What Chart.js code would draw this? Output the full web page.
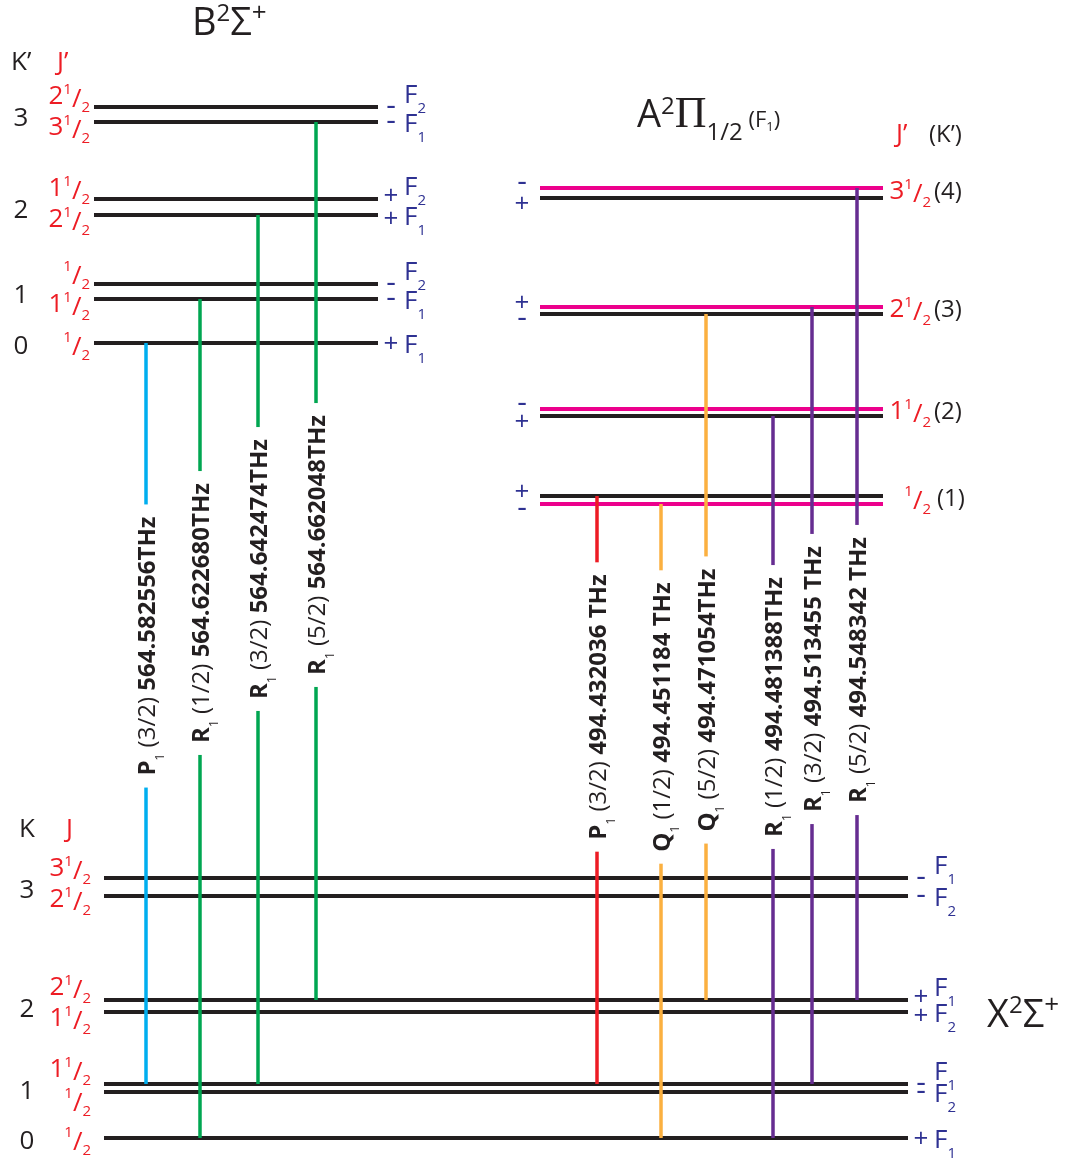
<!DOCTYPE html>
<html>
<head>
<meta charset="utf-8">
<title>Energy levels</title>
<script src="https://cdn.jsdelivr.net/npm/chart.js@4.4.1/dist/chart.umd.min.js"></script>
<style>
  html, body { margin: 0; padding: 0; background: #fff; }
  #diagram { display: block; }
</style>
</head>
<body>
<canvas id="diagram" width="1073" height="1158"></canvas>
<script>
// energies are on the diagram's own vertical scale (0 at the top)

// B2Σ+ levels (upper state, left)
const bK = [3, 3, 2, 2, 1, 1, 0];
const bJ = [2.5, 3.5, 1.5, 2.5, 0.5, 1.5, 0.5];
const bF = [2, 1, 2, 1, 2, 1, 1];
const bParity = ["-", "-", "+", "+", "-", "-", "+"];
const bEnergy = [107, 122, 199, 215, 284, 299, 343];

// A2Π1/2 (F1) levels (upper state, right)
const aK = [4, 4, 3, 3, 2, 2, 1, 1];
const aJ = [3.5, 3.5, 2.5, 2.5, 1.5, 1.5, 0.5, 0.5];
const aParity = ["-", "+", "+", "-", "-", "+", "+", "-"];
const aMarked = [true, false, true, false, true, false, false, true];
const aEnergy = [188, 198, 307, 314, 409, 416, 496, 504];

// X2Σ+ levels (ground state)
const xK = [3, 3, 2, 2, 1, 1, 0];
const xJ = [3.5, 2.5, 2.5, 1.5, 1.5, 0.5, 0.5];
const xF = [1, 2, 1, 2, 1, 2, 1];
const xParity = ["-", "-", "+", "+", "-", "-", "+"];
const xEnergy = [878, 896, 1000, 1012, 1084, 1092, 1138];

// transitions: upper level index -> X level index
const tBranch = ["P", "R", "R", "R", "P", "Q", "Q", "R", "R", "R"];
const tN = ["3/2", "1/2", "3/2", "5/2", "3/2", "1/2", "5/2", "1/2", "3/2", "5/2"];
const tFreq = ["564.582556THz", "564.622680THz", "564.642474THz", "564.662048THz",
  "494.432036 THz", "494.451184 THz", "494.471054THz", "494.481388THz",
  "494.513455 THz", "494.548342 THz"];
const tState = ["B", "B", "B", "B", "A", "A", "A", "A", "A", "A"];
const tUpper = [6, 5, 3, 1, 6, 7, 3, 5, 2, 0];
const tLower = [4, 6, 4, 2, 4, 6, 2, 6, 4, 2];
const tColumn = [146, 200, 258, 316, 597, 661, 706, 773, 812, 857];

// layout
const tLabelY = [646, 613, 569, 545, 707, 717, 700, 707, 679, 670];
const tColor = ["#00aeef", "#00a651", "#00a651", "#00a651", "#ed1c24",
  "#fbb040", "#fbb040", "#662d91", "#662d91", "#662d91"];
const INK = "#231f20";
const RED = "#ed1c24";
const BLUE = "#2e3192";
const MAGENTA = "#ec008c";
const FONT = '"Open Sans", "Noto Sans", sans-serif';
const SERIF = '"Liberation Serif", serif';
const boxB = { x0: 94, x1: 378, kX: 21, jRight: 90 };
const boxA = { x0: 540, x1: 883 };
const boxX = { x0: 104, x1: 908, kX: 27, jRight: 91 };

const upperEnergy = { A: aEnergy, B: bEnergy };

const datasets = [];
function addLine(pts, color, width, order) {
  datasets.push({
    data: pts, borderColor: color, borderWidth: width, showLine: true,
    pointRadius: 0, borderCapStyle: "butt", order: order
  });
}
bEnergy.forEach(e => addLine([{ x: boxB.x0, y: e }, { x: boxB.x1, y: e }], INK, 4, 2));
xEnergy.forEach(e => addLine([{ x: boxX.x0, y: e }, { x: boxX.x1, y: e }], INK, 4, 2));
aEnergy.forEach((e, i) => addLine([{ x: boxA.x0, y: e }, { x: boxA.x1, y: e }], aMarked[i] ? MAGENTA : INK, 4, 2));
tColumn.forEach((c, i) => addLine([
  { x: c, y: upperEnergy[tState[i]][tUpper[i]] },
  { x: c, y: xEnergy[tLower[i]] }
], tColor[i], 3.5, 1));

function fontOf(r) {
  return (r.b ? "bold " : "") + r.s + "px " + (r.f || FONT);
}
function widthOf(ctx, runs) {
  let w = 0;
  for (const r of runs) {
    ctx.font = fontOf(r);
    w += ctx.measureText(r.t).width;
  }
  return w;
}
function drawRuns(ctx, runs, x, y, align) {
  const w = widthOf(ctx, runs);
  let cx = align === "right" ? x - w : align === "center" ? x - w / 2 : x;
  ctx.textAlign = "left";
  ctx.textBaseline = "alphabetic";
  for (const r of runs) {
    ctx.font = fontOf(r);
    ctx.fillStyle = r.c || INK;
    ctx.fillText(r.t, cx, y + (r.dy || 0));
    cx += ctx.measureText(r.t).width;
  }
}
function jRuns(j, c) {
  const runs = [];
  const whole = Math.floor(j);
  if (whole > 0) runs.push({ t: String(whole), s: 26, c });
  runs.push({ t: "1", s: 15, dy: -10, c }, { t: "/", s: 26, dy: 3, c }, { t: "2", s: 15, dy: 8, c });
  return runs;
}
function signRun(sign) {
  return { t: sign, s: sign === "-" ? 30 : 26, c: BLUE };
}
function signBase(sign) {
  return sign === "-" ? 8 : 9;
}

const diagramText = {
  id: "diagramText",
  afterDatasetsDraw(chart) {
    const ctx = chart.ctx;
    const px = v => chart.scales.x.getPixelForValue(v);
    const py = v => chart.scales.y.getPixelForValue(v);
    ctx.save();

    // transition labels, cut into the lines
    tBranch.forEach((br, i) => {
      const runs = [
        { t: br, s: 24, b: true },
        { t: "1", s: 12, dy: 9 },
        { t: " (" + tN[i] + ") ", s: 24 },
        { t: tFreq[i], s: 24, b: true }
      ];
      const w = widthOf(ctx, runs);
      ctx.save();
      ctx.translate(px(tColumn[i]), py(tLabelY[i]));
      ctx.rotate(-Math.PI / 2);
      ctx.fillStyle = "#fff";
      ctx.fillRect(-w / 2 - 12, -8, w + 24, 16);
      drawRuns(ctx, runs, -w / 2, 8.5);
      ctx.restore();
    });

    // Σ states: K, J on the left, parity and F on the right
    function sigmaLabels(K, J, F, P, E, box) {
      for (let i = 0; i < K.length; i++) {
        const y = py(E[i]);
        const top = K[i + 1] === K[i];
        const bottom = K[i - 1] === K[i];
        const mid = top ? (y + py(E[i + 1])) / 2 : bottom ? (y + py(E[i - 1])) / 2 : y;
        const jc = top ? mid - 20 : bottom ? mid + 11 : y;
        drawRuns(ctx, jRuns(J[i], RED), box.jRight, jc + 9, "right");
        if (!bottom) drawRuns(ctx, [{ t: String(K[i]), s: 26 }], box.kX, mid + 11, "center");
        const xe = px(box.x1);
        const shift = P[i] === "+" ? (top ? -4 : bottom ? 3 : 0) : 0;
        drawRuns(ctx, [signRun(P[i])], xe + 13, y + shift + signBase(P[i]), "center");
        const fc = top ? y - 13 : y + 1;
        drawRuns(ctx, [{ t: "F", s: 26, c: BLUE }, { t: String(F[i]), s: 15, dy: 10, c: BLUE }], xe + 26, fc + 9, "left");
      }
    }
    sigmaLabels(bK, bJ, bF, bParity, bEnergy, boxB);
    sigmaLabels(xK, xJ, xF, xParity, xEnergy, boxX);

    // A state: parity left, J (K) right
    for (let i = 0; i < aK.length; i++) {
      const y = py(aEnergy[i]);
      const top = aK[i + 1] === aK[i];
      const sy = top ? y - 5 : y + 5;
      drawRuns(ctx, [signRun(aParity[i])], px(boxA.x0) - 18, sy + signBase(aParity[i]), "center");
      if (top) {
        const mid = (y + py(aEnergy[i + 1])) / 2;
        const base = mid - 3 + 9;
        const kx = px(boxA.x1) + (aJ[i] < 1 ? 54 : 51);
        drawRuns(ctx, jRuns(aJ[i], RED), px(boxA.x1) + 48, base, "right");
        drawRuns(ctx, [{ t: "(" + aK[i] + ")", s: 24 }], kx, base, "left");
      }
    }

    // column headers
    drawRuns(ctx, [{ t: "K\u2019", s: 26 }], 11, 70, "left");
    drawRuns(ctx, [{ t: "J\u2019", s: 26, c: RED }], 57, 70, "left");
    drawRuns(ctx, [{ t: "K", s: 26 }], 19, 837, "left");
    drawRuns(ctx, [{ t: "J", s: 26, c: RED }], 66, 837, "left");
    drawRuns(ctx, [{ t: "J\u2019", s: 26, c: RED }], 896, 142, "left");
    drawRuns(ctx, [{ t: "(K\u2019)", s: 24 }], 929, 142, "left");

    // state titles
    drawRuns(ctx, [
      { t: "B", s: 38 }, { t: "2", s: 24, dy: -14 }, { t: "\u03a3", s: 38 }, { t: "+", s: 26, dy: -14 }
    ], 192, 35, "left");
    drawRuns(ctx, [
      { t: "A", s: 38 }, { t: "2", s: 24, dy: -13 }, { t: "\u03a0", s: 44, f: SERIF },
      { t: "1/2", s: 24, dy: 13 }, { t: " (F", s: 22 }, { t: "1", s: 13, dy: 4 }, { t: ")", s: 22 }
    ], 637, 127, "left");
    drawRuns(ctx, [
      { t: "X", s: 38 }, { t: "2", s: 24, dy: -14 }, { t: "\u03a3", s: 38 }, { t: "+", s: 26, dy: -14 }
    ], 987, 1027, "left");

    ctx.restore();
  }
};

new Chart(document.getElementById("diagram"), {
  type: "scatter",
  data: { datasets },
  options: {
    responsive: false,
    devicePixelRatio: 1,
    animation: false,
    events: [],
    layout: { padding: 0 },
    scales: {
      x: { type: "linear", min: 0, max: 1073, display: false },
      y: { type: "linear", min: 0, max: 1158, reverse: true, display: false }
    },
    plugins: { legend: { display: false }, tooltip: { enabled: false } }
  },
  plugins: [diagramText]
});
</script>
</body>
</html>
